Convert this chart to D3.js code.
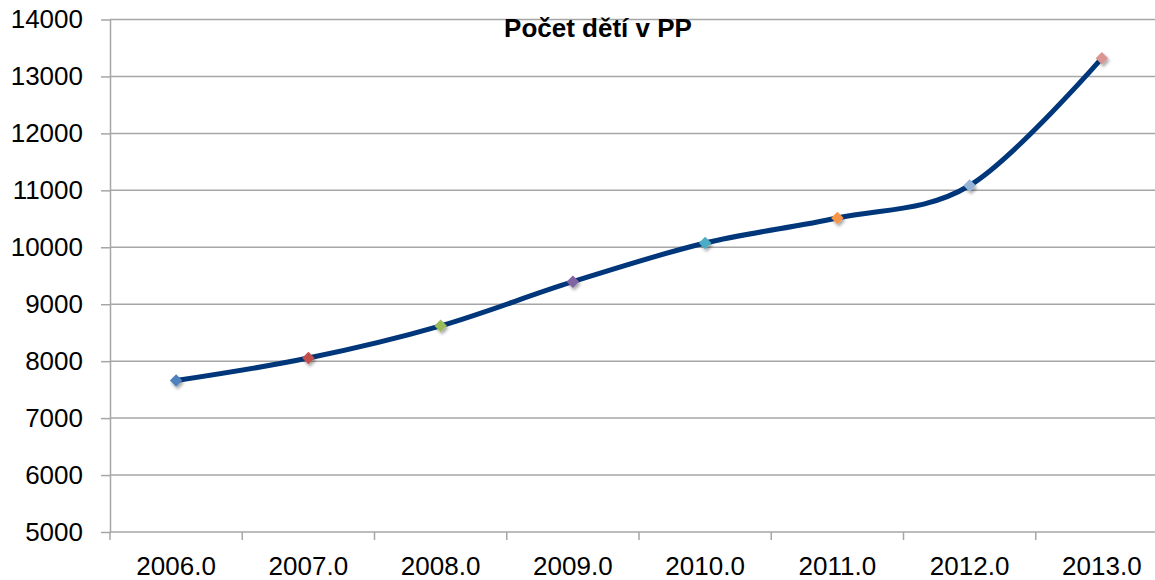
<!DOCTYPE html>
<meta charset="utf-8">
<script src="https://cdn.jsdelivr.net/npm/d3@7"></script>
<style>
body { margin: 0; background: #fff; }
text { font-family: "Liberation Sans", Arial, sans-serif; fill: #000; }
.grid line { stroke: #a6a6a6; stroke-width: 1.5px; }
.axis path, .axis line { stroke: #a6a6a6; stroke-width: 1.5px; }
</style>
<body>
<script>

// chart data
var years = ["2006.0", "2007.0", "2008.0", "2009.0", "2010.0", "2011.0", "2012.0", "2013.0"];
var values = [7660, 8055, 8620, 9395, 10075, 10515, 11085, 13320];
var markerColors = ["#4f81bd", "#c0504d", "#9bbb59", "#8064a2", "#4bacc6", "#f79646", "#95b3d7", "#d99694"];
var yTicks = [5000, 6000, 7000, 8000, 9000, 10000, 11000, 12000, 13000, 14000];
var title = "Počet dětí v PP";

var width = 1155,
    height = 580;

var svg = d3.select("body").append("svg")
    .attr("width", width)
    .attr("height", height);

var defs = svg.append("defs");
var f = defs.append("filter").attr("id", "shadow")
    .attr("x", "-50%").attr("y", "-50%").attr("width", "200%").attr("height", "200%");
f.append("feDropShadow")
    .attr("dx", 1.5).attr("dy", 2.5).attr("stdDeviation", 1.5)
    .attr("flood-color", "#000").attr("flood-opacity", 0.35);

var plotLeft = 110, plotRight = 1168, plotTop = 19.5, plotBottom = 532;

var x = d3.scaleBand()
    .domain(years)
    .range([plotLeft, plotRight]);

var y = d3.scaleLinear()
    .domain([5000, 14000])
    .range([plotBottom, plotTop]);

// gridlines
svg.append("g")
    .attr("class", "grid")
    .selectAll("line")
    .data(yTicks.slice(1))
    .enter().append("line")
    .attr("x1", plotLeft)
    .attr("x2", width)
    .attr("y1", function(d) { return y(d); })
    .attr("y2", function(d) { return y(d); });

// y axis
var yAxis = svg.append("g")
    .attr("class", "axis")
    .attr("transform", "translate(" + plotLeft + ",0)")
    .call(d3.axisLeft(y).tickValues(yTicks).tickFormat(d3.format("d"))
        .tickSize(9).tickSizeOuter(0).tickPadding(18));
yAxis.selectAll("text")
    .style("font-size", "26px")
    .style("font-family", "'Liberation Sans', Arial, sans-serif")
    .attr("fill", "#000");

// x axis
var xAxis = svg.append("g")
    .attr("class", "axis")
    .attr("transform", "translate(0," + plotBottom + ")");
xAxis.append("line")
    .attr("x1", plotLeft).attr("x2", width)
    .attr("y1", 0).attr("y2", 0);
xAxis.selectAll(".tk")
    .data(years)
    .enter().append("line")
    .attr("class", "tk")
    .attr("x1", function(d) { return x(d); })
    .attr("x2", function(d) { return x(d); })
    .attr("y1", 0).attr("y2", 8);
xAxis.selectAll("text")
    .data(years)
    .enter().append("text")
    .attr("x", function(d) { return x(d) + x.bandwidth() / 2; })
    .attr("y", 43)
    .attr("text-anchor", "middle")
    .style("font-size", "26px")
    .text(function(d) { return d; });

// line
var pts = years.map(function(d, i) { return [x(d) + x.bandwidth() / 2, y(values[i])]; });

var line = d3.line().curve(d3.curveCardinal.tension(0));

svg.append("path")
    .attr("d", line(pts))
    .attr("fill", "none")
    .attr("stroke", "#00367a")
    .attr("stroke-width", 5)
    .attr("stroke-linecap", "butt");

// markers
svg.selectAll(".marker")
    .data(pts)
    .enter().append("path")
    .attr("class", "marker")
    .attr("d", d3.symbol().type(d3.symbolDiamond2).size(100))
    .attr("transform", function(d) { return "translate(" + d[0] + "," + d[1] + ")"; })
    .attr("fill", function(d, i) { return markerColors[i]; })
    .attr("filter", "url(#shadow)");

// title
svg.append("text")
    .attr("x", 598)
    .attr("y", 37)
    .attr("text-anchor", "middle")
    .style("font-size", "26px")
    .style("font-weight", "bold")
    .text(title);

</script>
</body>
